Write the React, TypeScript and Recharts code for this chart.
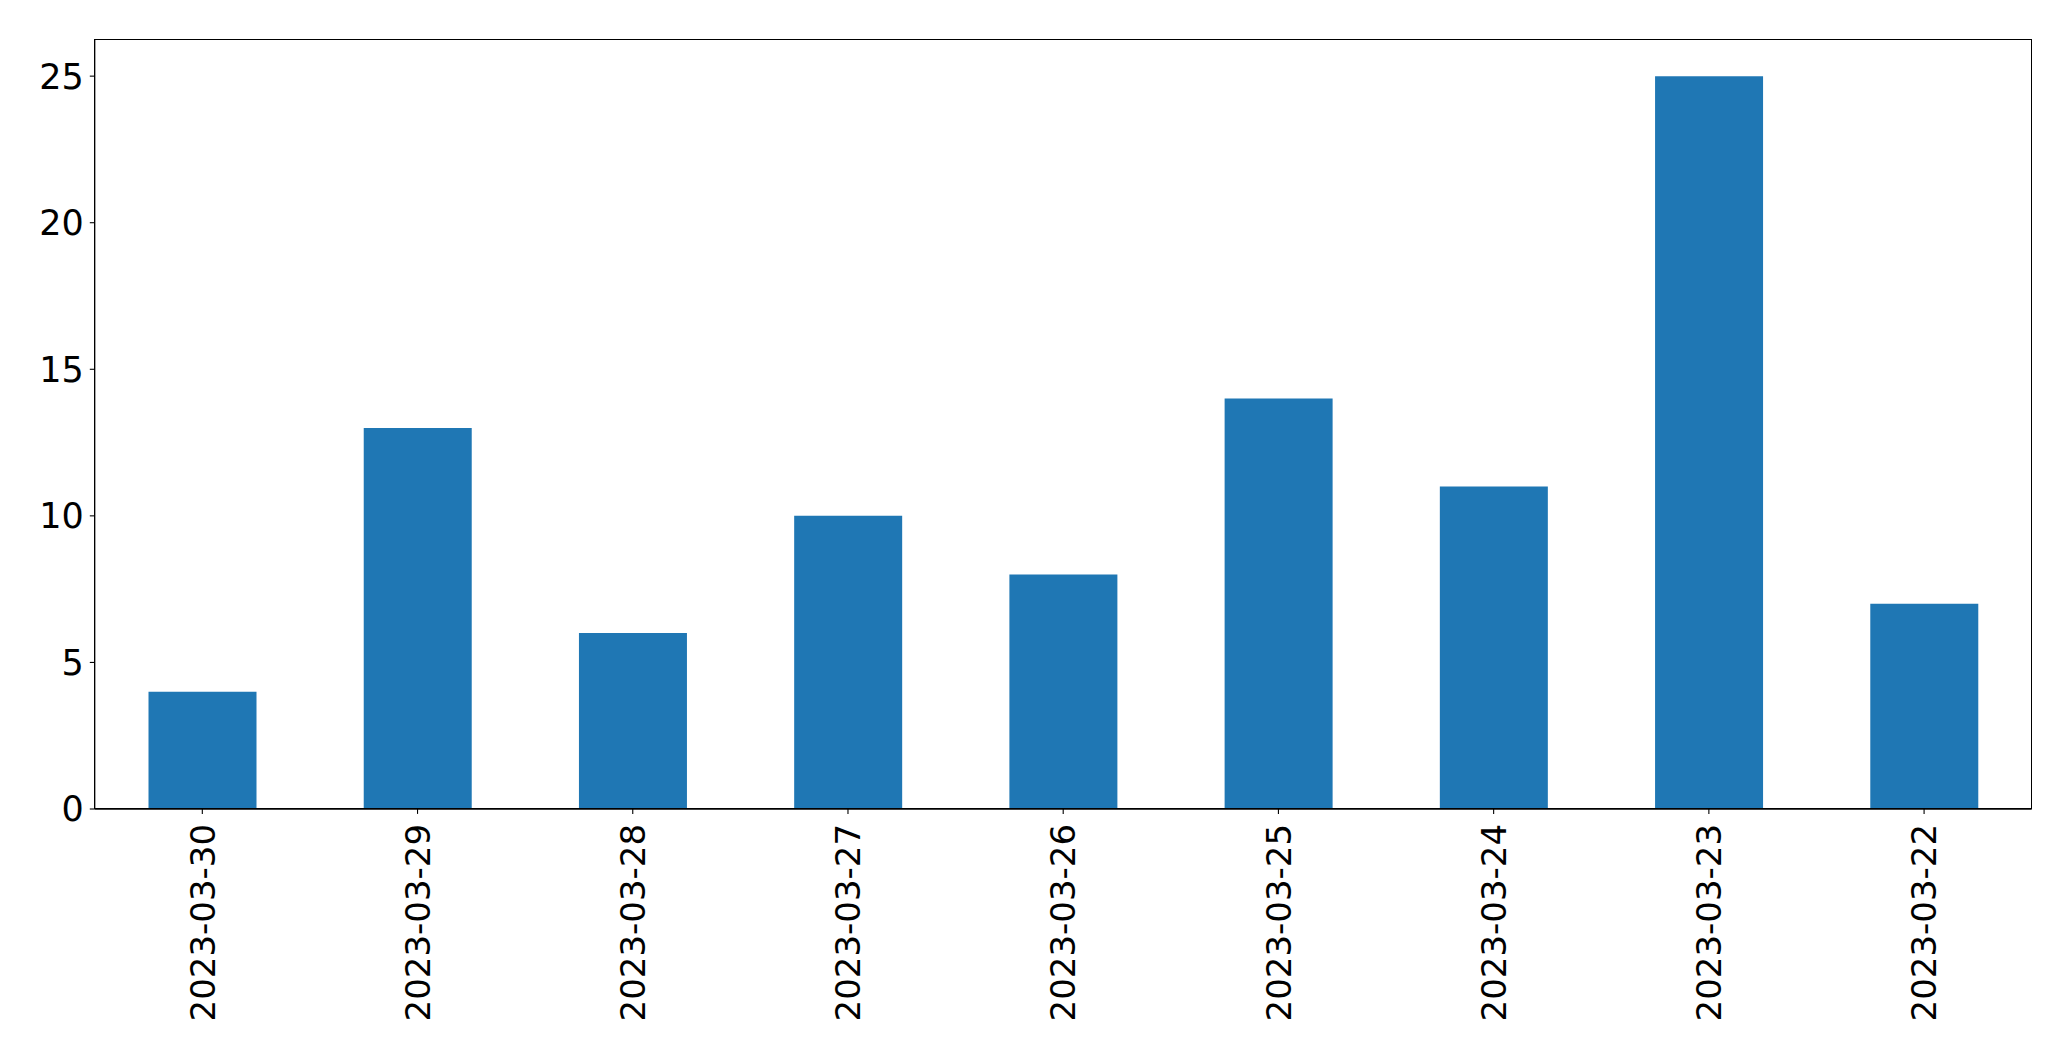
import { Bar, BarChart, XAxis, YAxis } from "recharts"

const dates = [
  "2023-03-30",
  "2023-03-29",
  "2023-03-28",
  "2023-03-27",
  "2023-03-26",
  "2023-03-25",
  "2023-03-24",
  "2023-03-23",
  "2023-03-22",
]
const counts = [4, 13, 6, 10, 8, 14, 11, 25, 7]
const yTicks = [0, 5, 10, 15, 20, 25]

const data = dates.map((date, i) => ({ date, count: counts[i] }))

const font = "DejaVu Sans, sans-serif"

function DateTick(props: any) {
  const { x, y, payload } = props
  return (
    <text
      transform={`translate(${x},${y}) rotate(-90)`}
      textAnchor="end"
      dy="0.36em"
      fontSize={34}
      fontFamily={font}
      fill="#000"
    >
      {payload.value}
    </text>
  )
}

export default function App() {
  return (
    <div style={{ position: "relative", width: 2071, height: 1061, background: "#fff" }}>
      <style>{`body{margin:0}`}</style>
      <BarChart
        width={2071}
        height={1061}
        data={data}
        margin={{ top: 39.5, right: 39.3, left: 0, bottom: 0 }}
        barCategoryGap="25%"
      >
        <XAxis
          dataKey="date"
          height={252}
          interval={0}
          tick={<DateTick />}
          tickSize={4.9}
          tickMargin={10}
          axisLine={{ stroke: "#000", strokeWidth: 1.3 }}
          tickLine={{ stroke: "#000", strokeWidth: 1.1 }}
        />
        <YAxis
          width={94.7}
          domain={[0, 26.25]}
          ticks={yTicks}
          tickSize={4.9}
          tickMargin={6}
          tick={{ fontSize: 35, fontFamily: font, fill: "#000" }}
          axisLine={{ stroke: "#000", strokeWidth: 1.3 }}
          tickLine={{ stroke: "#000", strokeWidth: 1.1 }}
        />
        <Bar dataKey="count" fill="#1f77b4" isAnimationActive={false} />
      </BarChart>
      {/* frame round the plot area, like the matplotlib axes box */}
      <div
        style={{
          position: "absolute",
          left: 94.1,
          top: 38.9,
          width: 1937.6,
          height: 770.2,
          border: "1.3px solid #000",
          boxSizing: "border-box",
          pointerEvents: "none",
        }}
      />
    </div>
  )
}
